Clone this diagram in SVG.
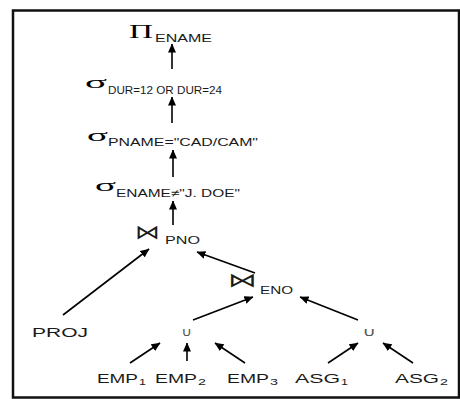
<svg xmlns="http://www.w3.org/2000/svg" width="460" height="399" viewBox="0 0 460 399">
<defs>
<marker id="ah" markerWidth="9" markerHeight="8" refX="8.5" refY="4" orient="auto" markerUnits="userSpaceOnUse">
<path d="M0,0 L9,4 L0,8 Z" fill="#000"/>
</marker>
<style>
.f{fill:#fff;stroke:#111;stroke-width:2.5}
.c line{stroke:#000;stroke-width:1.6;marker-end:url(#ah)}
.s{font-family:"Liberation Sans",Arial,sans-serif;fill:#1a1a1a}
.g{font-family:"Liberation Serif","Times New Roman",serif;fill:#000}
.d{font-family:"DejaVu Sans",sans-serif;fill:#1a1a1a}
.u{font-family:"DejaVu Sans",sans-serif;fill:#555}
</style>
</defs>
<rect class="f" x="13" y="10.5" width="446" height="387"/>
<g class="c">
<line x1="172" y1="69" x2="172" y2="44"/>
<line x1="172" y1="123" x2="172" y2="97"/>
<line x1="173" y1="177" x2="173" y2="150"/>
<line x1="173" y1="225" x2="173" y2="201"/>
<line x1="63" y1="315" x2="149" y2="249"/>
<line x1="255" y1="273" x2="197" y2="252"/>
<line x1="193" y1="320" x2="253" y2="297"/>
<line x1="358" y1="320" x2="300" y2="297"/>
<line x1="130" y1="363" x2="160" y2="343"/>
<line x1="187" y1="361" x2="187" y2="343"/>
<line x1="245" y1="363" x2="215" y2="343"/>
<line x1="328" y1="363" x2="358" y2="343"/>
<line x1="413" y1="363" x2="383" y2="343"/>
</g>
<g id="proj-ename">
<text class="g" x="129" y="37.5" font-size="19" textLength="24" lengthAdjust="spacingAndGlyphs">Π</text>
<text class="s" x="155" y="42" font-size="11.5" textLength="57" lengthAdjust="spacingAndGlyphs">ENAME</text>
</g>
<g id="sel-dur">
<text class="g" x="85" y="87.5" font-size="16" textLength="22" lengthAdjust="spacingAndGlyphs">σ</text>
<text class="s" x="108" y="94" font-size="10.5" textLength="114" lengthAdjust="spacingAndGlyphs">DUR=12 OR DUR=24</text>
</g>
<g id="sel-pname">
<text class="g" x="87" y="140.5" font-size="16" textLength="21" lengthAdjust="spacingAndGlyphs">σ</text>
<text class="s" x="108" y="145.5" font-size="11" textLength="150" lengthAdjust="spacingAndGlyphs">PNAME="CAD/CAM"</text>
</g>
<g id="sel-ename">
<text class="g" x="95" y="190.5" font-size="16" textLength="21" lengthAdjust="spacingAndGlyphs">σ</text>
<text class="s" x="116" y="196.5" font-size="11" textLength="124" lengthAdjust="spacingAndGlyphs">ENAME≠"J. DOE"</text>
</g>
<g id="join-pno">
<text class="d" x="135" y="239" font-size="20" textLength="25" lengthAdjust="spacingAndGlyphs">⋈</text>
<text class="s" x="165" y="243.5" font-size="11" textLength="35" lengthAdjust="spacingAndGlyphs">PNO</text>
</g>
<g id="join-eno">
<text class="d" x="228" y="287" font-size="20" textLength="29" lengthAdjust="spacingAndGlyphs">⋈</text>
<text class="s" x="260" y="293.5" font-size="11" textLength="33" lengthAdjust="spacingAndGlyphs">ENO</text>
</g>
<g id="proj">
<text class="s" x="32" y="336.5" font-size="12" textLength="56" lengthAdjust="spacingAndGlyphs">PROJ</text>
</g>
<g id="union-emp">
<text class="u" x="181" y="336" font-size="12" textLength="11" lengthAdjust="spacingAndGlyphs">∪</text>
</g>
<g id="union-asg">
<text class="u" x="362" y="336" font-size="12" textLength="14" lengthAdjust="spacingAndGlyphs">∪</text>
</g>
<g id="emp1">
<text class="s" x="97" y="382.5" font-size="12" textLength="41" lengthAdjust="spacingAndGlyphs">EMP</text>
<text class="s" x="139" y="385" font-size="9" textLength="7" lengthAdjust="spacingAndGlyphs">1</text>
</g>
<g id="emp2">
<text class="s" x="155" y="382.5" font-size="12" textLength="42" lengthAdjust="spacingAndGlyphs">EMP</text>
<text class="s" x="198" y="385" font-size="9" textLength="8" lengthAdjust="spacingAndGlyphs">2</text>
</g>
<g id="emp3">
<text class="s" x="227" y="382.5" font-size="12" textLength="42" lengthAdjust="spacingAndGlyphs">EMP</text>
<text class="s" x="270" y="385" font-size="9" textLength="8" lengthAdjust="spacingAndGlyphs">3</text>
</g>
<g id="asg1">
<text class="s" x="295" y="382.5" font-size="12" textLength="45" lengthAdjust="spacingAndGlyphs">ASG</text>
<text class="s" x="341" y="385" font-size="9" textLength="7" lengthAdjust="spacingAndGlyphs">1</text>
</g>
<g id="asg2">
<text class="s" x="395" y="382.5" font-size="12" textLength="44" lengthAdjust="spacingAndGlyphs">ASG</text>
<text class="s" x="440" y="385" font-size="9" textLength="8" lengthAdjust="spacingAndGlyphs">2</text>
</g>
</svg>
